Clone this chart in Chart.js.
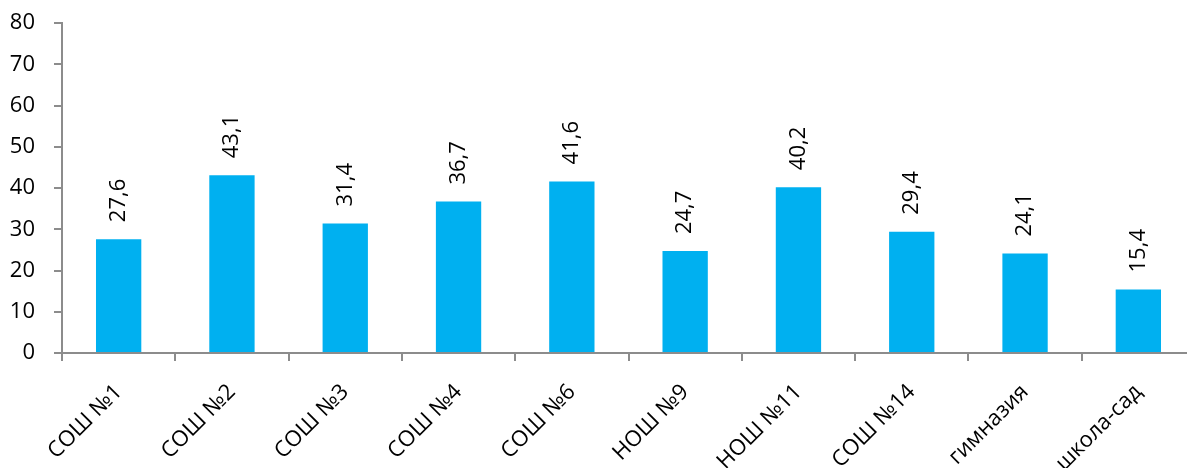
<!DOCTYPE html>
<html>
<head>
<meta charset="utf-8">
<script src="https://cdn.jsdelivr.net/npm/chart.js@4"></script>
<style>
    html, body { margin: 0; padding: 0; background: #fff; overflow: hidden; }
    #wrap { width: 1195px; height: 468px; }
</style>
</head>
<body>
<div id="wrap"><canvas id="barChart"></canvas></div>
<script>
// Chart data
const schools = ['СОШ №1', 'СОШ №2', 'СОШ №3', 'СОШ №4', 'СОШ №6', 'НОШ №9', 'НОШ №11', 'СОШ №14', 'гимназия', 'школа-сад'];
const values = [27.6, 43.1, 31.4, 36.7, 41.6, 24.7, 40.2, 29.4, 24.1, 15.4];
const yTicks = [0, 10, 20, 30, 40, 50, 60, 70, 80];

const fontFamily = '"Open Sans", "Liberation Sans", sans-serif';
const axisColor = '#8c8c8c';

// Draws the rotated value above each bar
const valueLabels = {
    id: 'valueLabels',
    afterDatasetsDraw(chart) {
        const ctx = chart.ctx;
        const meta = chart.getDatasetMeta(0);
        ctx.save();
        ctx.fillStyle = '#000';
        ctx.font = '22px ' + fontFamily;
        ctx.textAlign = 'left';
        ctx.textBaseline = 'middle';
        meta.data.forEach((bar, i) => {
            const text = values[i].toFixed(1).replace('.', ',');
            ctx.save();
            ctx.translate(bar.x, bar.y - 17);
            ctx.rotate(-Math.PI / 2);
            ctx.fillText(text, 0, 0);
            ctx.restore();
        });
        ctx.restore();
    }
};

function initializeChart() {
    const ctx = document.getElementById('barChart').getContext('2d');
    window.barChart = new Chart(ctx, {
        type: 'bar',
        data: {
            labels: schools,
            datasets: [{
                data: values,
                backgroundColor: '#00b0f0',
                categoryPercentage: 1,
                barPercentage: 0.4
            }]
        },
        options: {
            responsive: true,
            maintainAspectRatio: false,
            animation: false,
            layout: { padding: { top: 23, right: 0, left: 0, bottom: 0 } },
            plugins: {
                legend: { display: false },
                tooltip: { enabled: false }
            },
            scales: {
                x: {
                    offset: true,
                    grid: {
                        offset: true,
                        drawOnChartArea: false,
                        drawTicks: true,
                        tickLength: 8,
                        color: axisColor,
                        lineWidth: 2
                    },
                    border: { color: axisColor, width: 2 },
                    ticks: {
                        color: '#000',
                        font: { size: 22, family: fontFamily },
                        minRotation: 45,
                        maxRotation: 45,
                        padding: 18
                    },
                    afterFit(scale) {
                        scale.height = 115;
                        scale.paddingLeft = 0;
                        scale.paddingRight = 0;
                    }
                },
                y: {
                    min: 0,
                    max: 80,
                    afterBuildTicks(scale) {
                        scale.ticks = yTicks.map(v => ({ value: v }));
                    },
                    grid: {
                        drawOnChartArea: false,
                        tickLength: 8,
                        color: axisColor,
                        lineWidth: 2
                    },
                    border: { color: axisColor, width: 2 },
                    ticks: {
                        color: '#000',
                        font: { size: 22, family: fontFamily },
                        padding: 19
                    },
                    afterFit(scale) {
                        scale.width = 62;
                        scale.paddingTop = 0;
                        scale.paddingBottom = 0;
                    }
                }
            }
        },
        plugins: [valueLabels]
    });
}

initializeChart();
</script>
</body>
</html>
